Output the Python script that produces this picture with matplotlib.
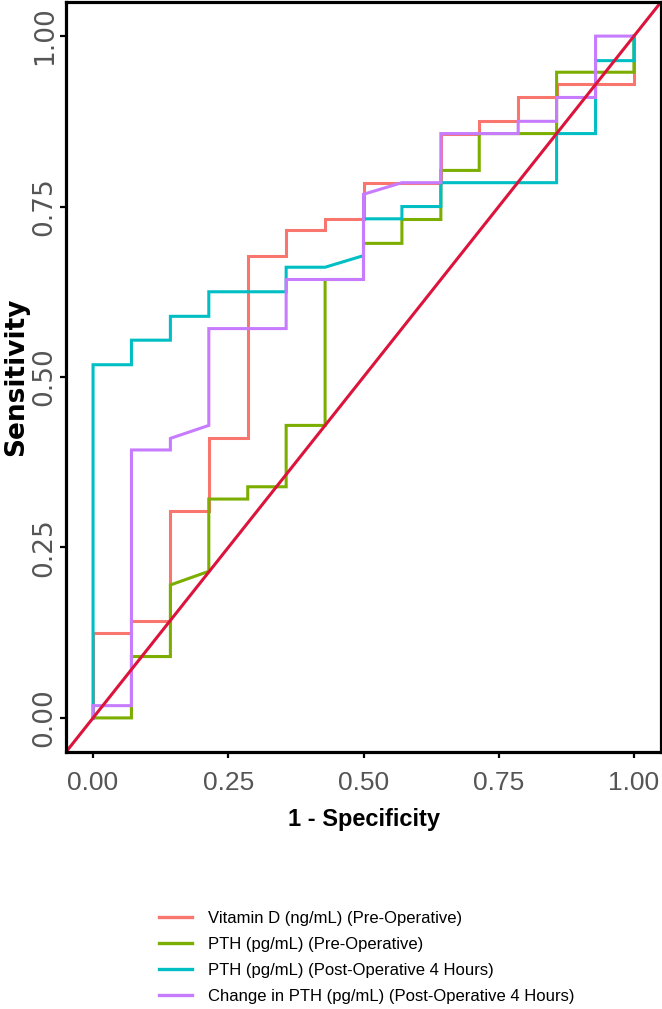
import matplotlib
matplotlib.use("Agg")
import matplotlib.pyplot as plt
from matplotlib.lines import Line2D

# =======================
# DATA
# =======================
labels = [
    "Vitamin D (ng/mL) (Pre-Operative)",
    "PTH (pg/mL) (Pre-Operative)",
    "PTH (pg/mL) (Post-Operative 4 Hours)",
    "Change in PTH (pg/mL) (Post-Operative 4 Hours)",
]
colors = ["#F8766D", "#7CAE00", "#00BFC4", "#C77CFF"]

vitd_fpr = [0, 0, 0.071, 0.071, 0.143, 0.143, 0.214, 0.214, 0.286, 0.286, 0.357, 0.357,
            0.429, 0.429, 0.5, 0.5, 0.643, 0.643, 0.714, 0.714, 0.786, 0.786, 0.857, 0.857, 1.0, 1.0]
vitd_tpr = [0, 0.124, 0.124, 0.142, 0.142, 0.303, 0.303, 0.410, 0.410, 0.678, 0.678, 0.715,
            0.715, 0.732, 0.732, 0.785, 0.785, 0.857, 0.857, 0.875, 0.875, 0.910, 0.910, 0.929, 0.929, 1.0]

pth_pre_fpr = [0, 0.071, 0.071, 0.143, 0.143, 0.214, 0.214, 0.286, 0.286, 0.357, 0.357, 0.429,
               0.429, 0.5, 0.5, 0.571, 0.571, 0.643, 0.643, 0.714, 0.714, 0.857, 0.857, 1.0, 1.0]
pth_pre_tpr = [0, 0, 0.09, 0.09, 0.195, 0.215, 0.321, 0.321, 0.339, 0.339, 0.429, 0.429,
               0.643, 0.643, 0.696, 0.696, 0.731, 0.731, 0.803, 0.803, 0.857, 0.857, 0.947, 0.947, 1.0]

pth_post_fpr = [0, 0, 0.071, 0.071, 0.143, 0.143, 0.214, 0.214, 0.357, 0.357, 0.429, 0.5,
                0.5, 0.571, 0.571, 0.643, 0.643, 0.857, 0.857, 0.929, 0.929, 1.0, 1.0]
pth_post_tpr = [0, 0.518, 0.518, 0.554, 0.554, 0.589, 0.589, 0.625, 0.625, 0.661, 0.661, 0.678,
                0.732, 0.732, 0.75, 0.75, 0.785, 0.785, 0.857, 0.857, 0.964, 0.964, 1.0]

dpth_fpr = [0, 0, 0.071, 0.071, 0.143, 0.143, 0.214, 0.214, 0.357, 0.357, 0.5, 0.5, 0.571,
            0.643, 0.643, 0.786, 0.786, 0.857, 0.857, 0.929, 0.929, 1.0]
dpth_tpr = [0, 0.018, 0.018, 0.393, 0.393, 0.410, 0.429, 0.571, 0.571, 0.643, 0.643, 0.768, 0.785,
            0.785, 0.857, 0.857, 0.875, 0.875, 0.910, 0.910, 1.0, 1.0]

ticks = [0.0, 0.25, 0.5, 0.75, 1.0]
tick_labels = ["0.00", "0.25", "0.50", "0.75", "1.00"]

curves = [(vitd_fpr, vitd_tpr), (pth_pre_fpr, pth_pre_tpr),
          (pth_post_fpr, pth_post_tpr), (dpth_fpr, dpth_tpr)]

# =======================
# PLOT
# =======================
W, H = 662, 1009
fig = plt.figure(figsize=(W / 100, H / 100), dpi=100)
ax = fig.add_axes([66 / W, 1 - 752 / H, (661 - 66) / W, 750 / H])

for (fpr, tpr), col in zip(curves, colors):
    ax.plot(fpr, tpr, color=col, lw=2.2, solid_joinstyle="miter")

# reference diagonal
ax.axline((0, 0), slope=1, color="#DC143C", lw=2.2)

ax.set_xlim(-0.05, 1.05)
ax.set_ylim(-0.05, 1.05)
ax.set_xticks(ticks)
ax.set_yticks(ticks)
ax.set_xticklabels(tick_labels, family="Liberation Sans", fontsize=19, color="#555555")
ax.set_yticklabels(tick_labels, family="DejaVu Sans", fontsize=19, color="#555555",
                   rotation=90, va="center")
ax.tick_params(axis="both", length=4, width=1.6, color="black")
ax.tick_params(axis="x", pad=9.5)
ax.tick_params(axis="y", pad=2)

for sp in ax.spines.values():
    sp.set_linewidth(2.3)
    sp.set_color("black")

ax.set_xlabel("1 - Specificity", family="Liberation Sans", fontweight="bold",
              fontsize=17, labelpad=9.5)
ax.set_ylabel("Sensitivity", family="DejaVu Sans", fontweight="bold",
              fontsize=19, labelpad=2)

handles = [Line2D([], [], color=c, lw=2.4) for c in colors]
fig.legend(handles, labels, loc="upper left", bbox_to_anchor=(159 / W, 1 - 911 / H),
           frameon=False, prop={"family": "Liberation Sans", "size": 12},
           handlelength=1.95, handletextpad=1.0, labelspacing=0.65,
           borderpad=0, borderaxespad=0)

fig.savefig("out.png", dpi=100)
